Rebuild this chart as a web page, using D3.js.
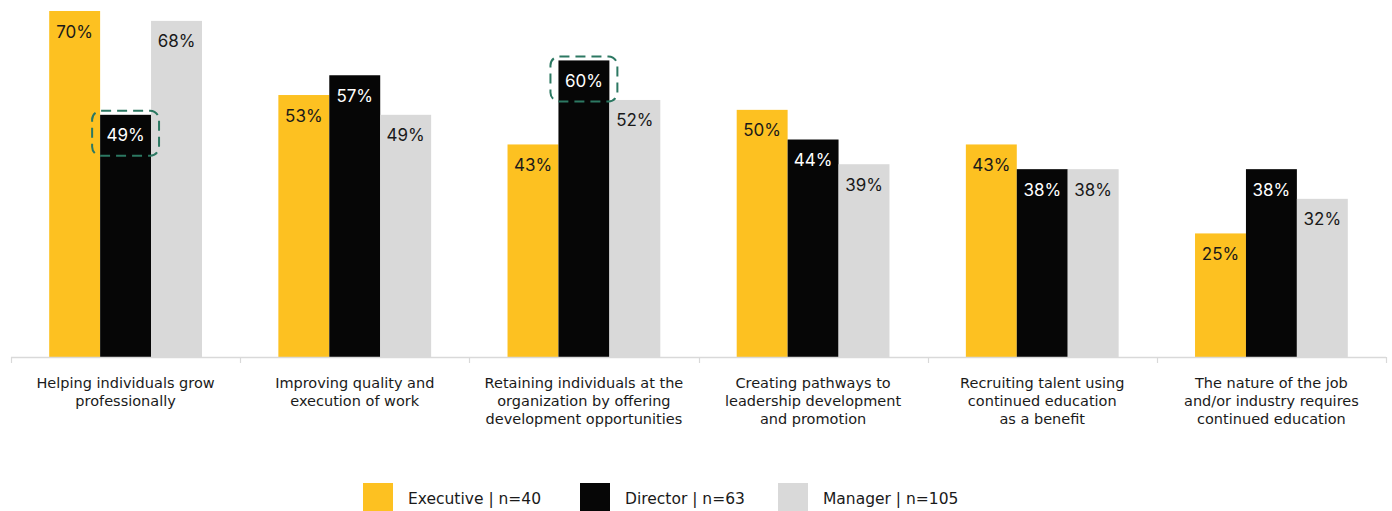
<!DOCTYPE html>
<html>
<head>
<meta charset="utf-8">
<script src="https://cdn.jsdelivr.net/npm/d3@7"></script>
<style>
  html, body { margin: 0; padding: 0; background: #fff; }
  svg { display: block; }
</style>
</head>
<body>
<svg id="chart" width="1392" height="511"></svg>
<script>
// Reasons for supporting continued education, by role
const categories = [
  ["Helping individuals grow", "professionally"],
  ["Improving quality and", "execution of work"],
  ["Retaining individuals at the", "organization by offering", "development opportunities"],
  ["Creating pathways to", "leadership development", "and promotion"],
  ["Recruiting talent using", "continued education", "as a benefit"],
  ["The nature of the job", "and/or industry requires", "continued education"]
];
const seriesNames = ["Executive | n=40", "Director | n=63", "Manager | n=105"];
const executive = [70, 53, 43, 50, 43, 25];
const director = [49, 57, 60, 44, 38, 38];
const manager = [68, 49, 52, 39, 38, 32];
// bars outlined with a dashed callout: [category index, series index]
const highlights = [[0, 1], [2, 1]];

const colors = ["#FDC121", "#060606", "#D9D9D9"];
const labelColors = ["#1a1a1a", "#ffffff", "#1a1a1a"];
const values = [executive, director, manager];

const svg = d3.select("#chart");
const margin = { left: 11, right: 6, top: 11 };
const W = 1392;
const baseY = 357;

const x0 = d3.scaleBand()
  .domain(d3.range(categories.length))
  .range([margin.left, W - margin.right])
  .paddingInner(0).paddingOuter(0);

const x1 = d3.scaleBand()
  .domain(d3.range(seriesNames.length))
  .range([0, x0.bandwidth()])
  .paddingOuter(0.75).paddingInner(0);

const y = d3.scaleLinear().domain([0, 70]).range([baseY, margin.top]);

// bars
const groups = svg.append("g").selectAll("g")
  .data(categories.map((c, i) => i))
  .join("g")
  .attr("transform", i => `translate(${x0(i)},0)`);

groups.selectAll("rect")
  .data(i => values.map((s, k) => ({ k, v: s[i] })))
  .join("rect")
  .attr("x", d => x1(d.k))
  .attr("y", d => y(d.v))
  .attr("width", x1.bandwidth())
  .attr("height", d => baseY - y(d.v))
  .attr("fill", d => colors[d.k]);

// value labels inside bar tops
groups.selectAll("text.val")
  .data(i => values.map((s, k) => ({ k, v: s[i] })))
  .join("text")
  .attr("class", "val")
  .attr("x", d => x1(d.k) + x1.bandwidth() / 2)
  .attr("y", d => y(d.v) + 26.5)
  .attr("text-anchor", "middle")
  .attr("font-family", "Inter, 'Liberation Sans', sans-serif")
  .attr("font-size", 17)
  .attr("fill", d => labelColors[d.k])
  .text(d => d.v + "%");

// dashed callouts
svg.append("g").selectAll("rect")
  .data(highlights)
  .join("rect")
  .attr("x", d => x0(d[0]) + x1(d[1]) - 8)
  .attr("y", d => y(values[d[1]][d[0]]) - 4)
  .attr("width", x1.bandwidth() + 16)
  .attr("height", 45)
  .attr("rx", 9)
  .attr("fill", "none")
  .attr("stroke", "#2C7862")
  .attr("stroke-width", 2)
  .attr("stroke-dasharray", "10 6");

// category axis
const axis = svg.append("g").attr("transform", `translate(0,${baseY})`);
axis.append("line")
  .attr("x1", x0.range()[0]).attr("x2", x0.range()[1])
  .attr("y1", 0.5).attr("y2", 0.5)
  .attr("stroke", "#D9D9D9").attr("stroke-width", 1.5);
axis.selectAll("line.tick")
  .data(d3.range(categories.length + 1))
  .join("line")
  .attr("class", "tick")
  .attr("x1", i => Math.round(margin.left + i * x0.step()) + 0.5)
  .attr("x2", i => Math.round(margin.left + i * x0.step()) + 0.5)
  .attr("y1", 0).attr("y2", 6)
  .attr("stroke", "#D9D9D9").attr("stroke-width", 1.2);

const catLabels = svg.append("g").selectAll("text")
  .data(categories.map((c, i) => ({ c, i })))
  .join("text")
  .attr("x", d => x0(d.i) + x0.bandwidth() / 2)
  .attr("y", 388)
  .attr("text-anchor", "middle")
  .attr("font-family", "'DejaVu Sans', sans-serif")
  .attr("font-size", 14.5)
  .attr("fill", "#1a1a1a");
catLabels.selectAll("tspan")
  .data(d => d.c.map(line => ({ line, x: x0(d.i) + x0.bandwidth() / 2 })))
  .join("tspan")
  .attr("x", d => d.x)
  .attr("dy", (d, j) => j === 0 ? 0 : 18)
  .text(d => d.line);

// legend
const legendX = [363, 580, 778];
const legend = svg.append("g").selectAll("g")
  .data(seriesNames.map((n, k) => ({ n, k })))
  .join("g")
  .attr("transform", d => `translate(${legendX[d.k]},483)`);
legend.append("rect")
  .attr("width", 30).attr("height", 30)
  .attr("fill", d => colors[d.k]);
legend.append("text")
  .attr("x", 45).attr("y", 21)
  .attr("font-family", "'DejaVu Sans', sans-serif")
  .attr("font-size", 15.5)
  .attr("fill", "#1a1a1a")
  .text(d => d.n);
</script>
</body>
</html>
